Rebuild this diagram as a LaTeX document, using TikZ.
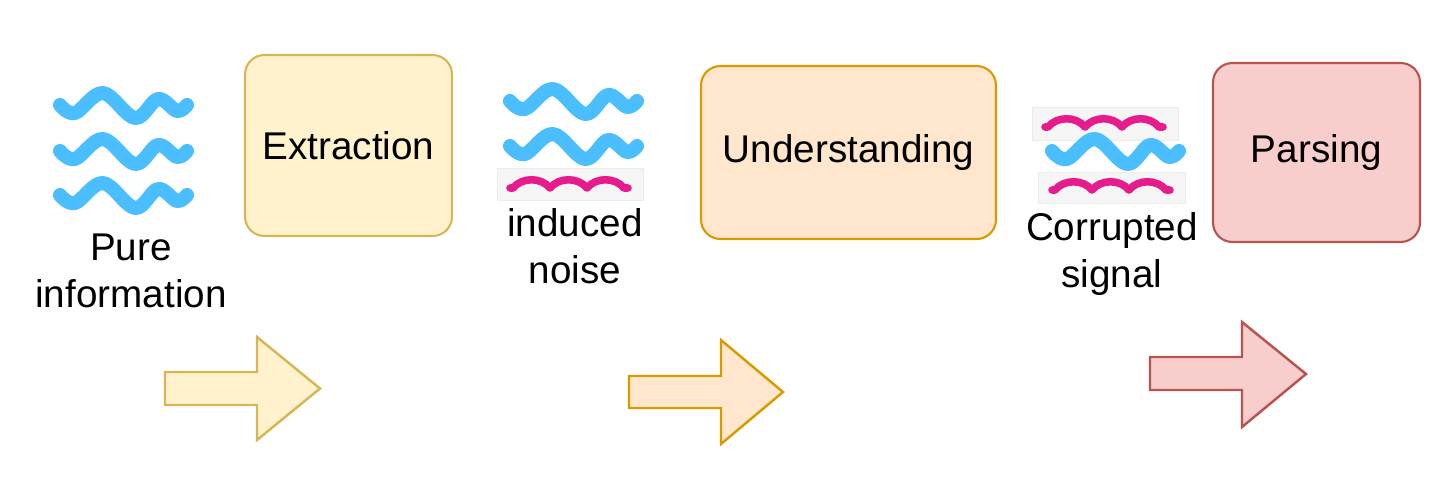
\documentclass[tikz,border=0pt]{standalone}
\usepackage{fontspec}
\setmainfont{Liberation Sans}
\definecolor{yfill}{HTML}{FFF2CC}\definecolor{ydraw}{HTML}{D6B656}
\definecolor{ofill}{HTML}{FFE6CC}\definecolor{odraw}{HTML}{D79B00}
\definecolor{rfill}{HTML}{F8CECC}\definecolor{rdraw}{HTML}{B85450}
\definecolor{wblue}{HTML}{4ABEFF}\definecolor{wpink}{HTML}{E61C8C}
\definecolor{gfill}{HTML}{F5F5F5}\definecolor{gdraw}{HTML}{ECECEC}
\begin{document}
\begin{tikzpicture}[x=0.02cm,y=-0.02cm,
  lbl/.style={font=\fontsize{22}{27}\selectfont, align=center, inner sep=0pt},
  stage/.style={rounded corners=11pt, line width=1.2pt, font=\fontsize{22}{27}\selectfont, inner sep=0pt},
  bigarrow/.style={line width=1.4pt, line join=miter},
  bluew/.style={wblue, line width=8pt, line cap=round, line join=round},
  pinkw/.style={wpink, line width=4.3pt, line cap=round, line join=round},
  greybox/.style={fill=gfill, draw=gdraw, line width=0.5pt},
  bluewave/.pic={\draw[bluew] plot[smooth,tension=0.6] coordinates {(0,0) (15,8) (43,-12) (75,13) (98,-6) (117,6) (127,0)};},
  pinkwave/.pic={\draw[pinkw] (0,0) -- (3,0) .. controls (12,-11) and (31,-11) .. (40,0) .. controls (49,-11) and (68,-11) .. (77,0) .. controls (86,-11) and (105,-11) .. (114,0) -- (118,0);}
]
\useasboundingbox (0,0) rectangle (1456,481);

% stage boxes
\node[stage, fill=yfill, draw=ydraw, minimum width=4.14cm, minimum height=3.62cm] (ext) at (348.5,145.5) {Extraction};
\node[stage, fill=ofill, draw=odraw, minimum width=5.9cm, minimum height=3.46cm] (und) at (848.5,152.5) {Understanding};
\node[stage, fill=rfill, draw=rdraw, minimum width=4.14cm, minimum height=3.58cm] (par) at (1316.5,152.5) {Parsing};

% group 1: pure information
\pic at (60,105) {bluewave};
\pic at (60,151) {bluewave};
\pic at (60,195) {bluewave};
\node[lbl] (pure) at (131,271) {Pure\\information};

% group 2: induced noise
\pic at (510,101) {bluewave};
\pic at (510,146) {bluewave};
\fill[greybox] (497,168) rectangle (643,200);
\pic at (510,188) {pinkwave};
\node[lbl] (noise) at (575,246) {induced\\noise};

% group 3: corrupted signal
\fill[greybox] (1032,107) rectangle (1178,140);
\pic at (1045,127) {pinkwave};
\fill[greybox] (1038,172) rectangle (1185,203);
\pic at (1052,190) {pinkwave};
\pic at (1052,151) {bluewave};
\node[lbl] (corr) at (1112,254) {Corrupted\\signal};

% big arrows
\draw[bigarrow, fill=yfill, draw=ydraw] (165,372) -- (257,372) -- (257,337) -- (320,388.5) -- (257,440) -- (257,405) -- (165,405) -- cycle;
\draw[bigarrow, fill=ofill, draw=odraw] (629,376) -- (721,376) -- (721,340) -- (783,392) -- (721,444) -- (721,408) -- (629,408) -- cycle;
\draw[bigarrow, fill=rfill, draw=rdraw] (1150,357) -- (1242,357) -- (1242,322) -- (1306,374) -- (1242,427) -- (1242,390) -- (1150,390) -- cycle;
\end{tikzpicture}
\end{document}
